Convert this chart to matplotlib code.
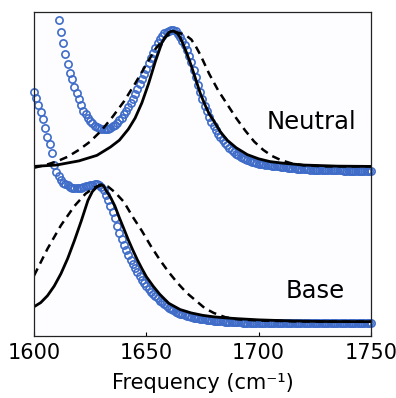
import matplotlib
matplotlib.use("Agg")
import matplotlib.pyplot as plt
import numpy as np

# measured amide I band, normalised, one point per cm^-1
neutral_freq = np.arange(1611, 1751)
neutral_abs = [
    1.09, 1.005, 0.925, 0.845, 0.77, 0.71, 0.66, 0.605, 0.565, 0.516,
    0.472, 0.435, 0.407, 0.382, 0.36, 0.342, 0.326, 0.313, 0.305, 0.300,
    0.298, 0.299, 0.303, 0.310, 0.320, 0.331, 0.345, 0.363, 0.384, 0.407,
    0.432, 0.458, 0.490, 0.522, 0.555, 0.590, 0.625, 0.662, 0.700, 0.738,
    0.778, 0.818, 0.852, 0.888, 0.922, 0.952, 0.976, 0.994, 1.006, 1.014,
    1.018, 1.018, 1.010, 0.992, 0.968, 0.940, 0.908, 0.872, 0.830, 0.784,
    0.730, 0.676, 0.620, 0.567, 0.517, 0.468, 0.428, 0.388, 0.354, 0.322,
    0.294, 0.268, 0.244, 0.222, 0.202, 0.182, 0.165, 0.150, 0.136, 0.122,
    0.111, 0.101, 0.092, 0.084, 0.077, 0.070, 0.064, 0.059, 0.055, 0.051,
    0.047, 0.044, 0.041, 0.039, 0.037, 0.035, 0.033, 0.031, 0.030, 0.028,
    0.026, 0.024, 0.022, 0.020, 0.018, 0.016, 0.014, 0.012, 0.011, 0.010,
    0.009, 0.008, 0.007, 0.006, 0.005, 0.005, 0.004, 0.004, 0.003, 0.003,
    0.002, 0.002, 0.002, 0.001, 0.001, 0.001, 0.001, 0.0, 0.0, 0.0,
    0.0, 0.0, 0.0, 0.0, 0.0, 0.0, 0.0, 0.0, 0.0, 0.0,
]

base_freq = np.arange(1600, 1751)
base_abs = [
    1.678, 1.630, 1.582, 1.533, 1.478, 1.413, 1.352, 1.300, 1.236, 1.150,
    1.100, 1.068, 1.037, 1.020, 1.009, 0.999, 0.990, 0.984, 0.980, 0.978,
    0.979, 0.982, 0.986, 0.992, 0.997, 1.002, 1.005, 1.007, 1.006, 1.002,
    0.990, 0.965, 0.930, 0.895, 0.850, 0.805, 0.760, 0.705, 0.655, 0.610,
    0.565, 0.528, 0.495, 0.462, 0.430, 0.400, 0.370, 0.340, 0.315, 0.290,
    0.268, 0.245, 0.228, 0.212, 0.196, 0.180, 0.165, 0.152, 0.138, 0.125,
    0.114, 0.103, 0.094, 0.085, 0.077, 0.070, 0.064, 0.059, 0.054, 0.050,
    0.046, 0.042, 0.039, 0.036, 0.033, 0.031, 0.028, 0.026, 0.024, 0.022,
    0.020, 0.018, 0.017, 0.015, 0.014, 0.012, 0.011, 0.010, 0.009, 0.008,
    0.007, 0.006, 0.006, 0.005, 0.005, 0.004, 0.004, 0.003, 0.003, 0.002,
    0.002, 0.002, 0.002, 0.001, 0.001, 0.001, 0.001, 0.0, 0.0, 0.0,
    0.0, 0.0, 0.0, 0.0, 0.0, 0.0, 0.0, 0.0, 0.0, 0.0,
    0.0, 0.0, 0.0, 0.0, 0.0, 0.0, 0.0, 0.0, 0.0, 0.0,
    0.0, 0.0, 0.0, 0.0, 0.0, 0.0, 0.0, 0.0, 0.0, 0.0,
    0.0, 0.0, 0.0, 0.0, 0.0, 0.0, 0.0, 0.0, 0.0, 0.0,
    0.0,
]

# simulated spectra (solid and dashed models)
neutral_sim_freq = [1600, 1610, 1620, 1628, 1634, 1638, 1642, 1645, 1648, 1651,
                    1654, 1657, 1659, 1660, 1661, 1662, 1663, 1664, 1665, 1666,
                    1668, 1670, 1672, 1674, 1676, 1678, 1680, 1683, 1686, 1690,
                    1695, 1700, 1705, 1710, 1720, 1735, 1750]
neutral_sim = [0.03, 0.04, 0.07, 0.11, 0.17, 0.22, 0.30, 0.38, 0.49, 0.63,
               0.79, 0.93, 0.98, 1.00, 1.008, 1.01, 1.005, 0.99, 0.965, 0.93,
               0.85, 0.76, 0.66, 0.56, 0.48, 0.41, 0.36, 0.28, 0.22, 0.165,
               0.115, 0.085, 0.065, 0.055, 0.04, 0.032, 0.03]

neutral_alt_freq = [1600, 1605, 1610, 1615, 1620, 1625, 1630, 1635, 1640, 1645,
                    1650, 1654, 1658, 1660, 1662, 1664, 1666, 1668, 1670, 1672,
                    1674, 1676, 1678, 1682, 1686, 1690, 1694, 1698, 1702, 1706,
                    1710, 1715, 1720, 1730, 1750]
neutral_alt = [0.02, 0.04, 0.065, 0.10, 0.15, 0.21, 0.29, 0.39, 0.50, 0.63,
               0.77, 0.88, 0.96, 0.985, 1.0, 1.0, 0.99, 0.975, 0.95, 0.90,
               0.84, 0.77, 0.70, 0.58, 0.48, 0.38, 0.29, 0.21, 0.15, 0.105,
               0.075, 0.05, 0.038, 0.03, 0.03]

base_sim_freq = [1600, 1603, 1606, 1609, 1612, 1615, 1618, 1621, 1624, 1626,
                 1628, 1629, 1630, 1631, 1632, 1634, 1636, 1638, 1640, 1642,
                 1644, 1646, 1648, 1650, 1653, 1656, 1660, 1665, 1670, 1675,
                 1680, 1685, 1690, 1700, 1715, 1730, 1750]
base_sim = [0.12, 0.15, 0.20, 0.27, 0.36, 0.47, 0.60, 0.74, 0.89, 0.955,
            0.99, 1.0, 1.005, 0.995, 0.965, 0.915, 0.85, 0.765, 0.685, 0.604,
            0.53, 0.46, 0.397, 0.338, 0.27, 0.21, 0.145, 0.10, 0.075, 0.058,
            0.047, 0.04, 0.034, 0.025, 0.017, 0.013, 0.012]

base_alt_freq = [1600, 1606, 1612, 1618, 1623, 1627, 1630, 1633, 1636, 1640,
                 1644, 1648, 1652, 1656, 1660, 1664, 1668, 1672, 1676, 1680,
                 1685, 1690, 1700, 1720, 1750]
base_alt = [0.345, 0.54, 0.71, 0.85, 0.94, 0.985, 1.0, 0.99, 0.95, 0.88,
            0.77, 0.67, 0.56, 0.46, 0.37, 0.29, 0.22, 0.165, 0.11, 0.075,
            0.045, 0.03, 0.02, 0.013, 0.012]

neutral_shift = 1.107

if __name__ == "__main__":
    plt.rcParams["font.family"] = "DejaVu Sans"
    blue = "#3f6cc8"

    fig = plt.figure(figsize=(3.96, 3.98), dpi=100, facecolor="white")
    ax = fig.add_axes([34 / 396, 1 - 336 / 398, 337 / 396, 324 / 398], facecolor="#fdfdff")

    ax.plot(neutral_freq, np.array(neutral_abs) + neutral_shift, "o", ms=5.2,
            mfc="none", mec=blue, mew=1.2, clip_on=False)
    ax.plot(base_freq, base_abs, "o", ms=5.2, mfc="none", mec=blue, mew=1.2,
            clip_on=False)

    ax.plot(neutral_alt_freq, np.array(neutral_alt) + neutral_shift, "k--",
            lw=1.8, dashes=(3.2, 2.2))
    ax.plot(base_alt_freq, base_alt, "k--", lw=1.8, dashes=(3.2, 2.2))
    ax.plot(neutral_sim_freq, np.array(neutral_sim) + neutral_shift, "k-", lw=2.0)
    ax.plot(base_sim_freq, base_sim, "k-", lw=2.0)

    ax.text(1703.6, 1.406, "Neutral", fontsize=17.5, ha="left", va="baseline")
    ax.text(1711.9, 0.181, "Base", fontsize=17.5, ha="left", va="baseline")

    ax.set_xlim(1600, 1750)
    ax.set_ylim(-0.092, 2.256)
    ax.set_xticks([1600, 1650, 1700, 1750])
    ax.set_yticks([])
    ax.tick_params(axis="x", direction="in", length=3, width=0.8, labelsize=15, pad=5)
    ax.set_xlabel("Frequency (cm\u207b\u00b9)", fontsize=15, labelpad=7)
    for s in ax.spines.values():
        s.set_linewidth(0.9)
        s.set_color("#222222")

    fig.savefig("out.png", dpi=100, facecolor="white")
